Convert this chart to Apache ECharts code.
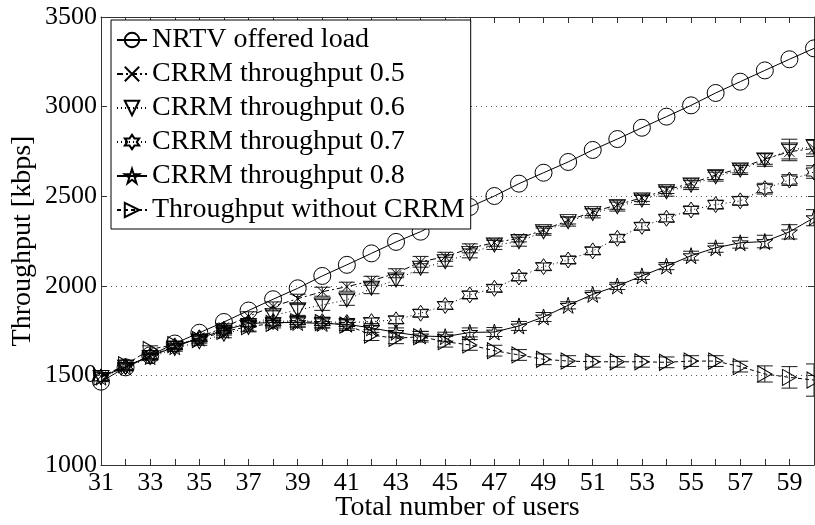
<!DOCTYPE html>
<html>
<head>
<meta charset="utf-8">
<script src="https://cdn.jsdelivr.net/npm/echarts@6/dist/echarts.min.js"></script>
<style>
  html, body { margin: 0; padding: 0; background: #fff; }
  #chart { width: 815px; height: 525px; }
</style>
</head>
<body>
<div id="chart"></div>
<script>
// Total number of users (x axis)
const users = [31,32,33,34,35,36,37,38,39,40,41,42,43,44,45,46,47,48,49,50,51,52,53,54,55,56,57,58,59,60];

// Throughput in kbps per scenario
const nrtvLoad = [1465,1545,1612,1678,1738,1798,1862,1925,1986,2055,2117,2181,2245,2302,2372,2440,2501,2570,2631,2691,2758,2819,2882,2944,3007,3076,3139,3202,3264,3325];
const crrm05   = [1495,1552,1608,1662,1712,1768,1830,1885,1928,1967,1995,2028,2070,2134,2162,2209,2241,2265,2311,2365,2412,2452,2491,2535,2572,2618,2655,2708,2748,2767];
const crrm06   = [1488,1545,1600,1650,1688,1730,1768,1835,1865,1893,1921,1986,2032,2098,2134,2181,2228,2246,2302,2358,2404,2442,2479,2525,2562,2609,2646,2702,2758,2776];
const crrm07   = [1492,1550,1610,1665,1710,1758,1795,1800,1805,1800,1795,1800,1810,1847,1890,1949,1986,2049,2107,2144,2195,2265,2332,2377,2423,2453,2474,2542,2590,2635];
const crrm08   = [1490,1548,1605,1660,1708,1752,1790,1795,1795,1790,1785,1765,1740,1720,1716,1740,1742,1776,1826,1891,1952,1999,2055,2110,2168,2212,2240,2247,2301,2380];
const noCrrm   = [1490,1560,1645,1672,1700,1745,1772,1790,1800,1795,1781,1725,1707,1716,1688,1670,1638,1614,1590,1580,1576,1576,1576,1573,1580,1580,1549,1508,1489,1474];

// Half-width of the confidence intervals (kbps)
const err05 = [20,20,15,15,15,20,25,25,25,25,25,25,25,30,25,25,20,20,20,20,20,25,20,20,25,25,25,30,40,45];
const err06 = [20,20,15,15,20,20,25,30,30,30,30,30,30,25,25,25,25,25,20,25,25,25,25,25,25,25,25,35,60,40];
const err07 = [20,20,15,15,15,20,20,20,20,20,20,20,20,20,20,20,20,20,20,20,20,20,20,20,20,25,25,30,30,35];
const err08 = [20,20,15,15,20,20,20,20,25,25,25,25,25,25,25,25,25,25,25,20,20,20,20,20,25,25,30,35,40,45];
const errNo = [25,25,20,20,20,20,25,25,30,30,30,30,30,30,30,30,30,30,30,30,30,30,30,30,30,30,30,45,60,90];

const names = ['NRTV offered load','CRRM throughput 0.5','CRRM throughput 0.6','CRRM throughput 0.7','CRRM throughput 0.8','Throughput without CRRM'];
const yTicks = { min: 1000, max: 3500, step: 500 };

const FONT = "'Liberation Serif', 'Times New Roman', serif";
const INK = '#000';

// Marker outlines
const SYM_CROSS = 'path://M0,0L10,10M10,0L0,10';
const SYM_DOWN  = 'path://M0,0L16,0L8,14Z';
const SYM_HEX   = 'path://M8,0L10.31,4L14.93,4L12.62,8L14.93,12L10.31,12L8,16L5.69,12L1.07,12L3.38,8L1.07,4L5.69,4Z';
const SYM_STAR  = 'path://M8,0L9.8,5.52L15.61,5.53L10.91,8.95L12.7,14.47L8,11.06L3.3,14.47L5.09,8.95L0.39,5.53L6.2,5.52Z';
const SYM_RIGHT = 'path://M0,0L14,8L0,16Z';

function pairs(vals) { return users.map((u, i) => [u, vals[i]]); }

function lineSeries(name, vals, symbol, size, dash) {
  return {
    type: 'line', name, data: pairs(vals),
    symbol, symbolSize: size, showAllSymbol: true,
    lineStyle: { color: INK, width: 1, type: dash },
    itemStyle: { color: 'rgba(255,255,255,0)', borderColor: INK, borderWidth: 1 },
    emphasis: { disabled: true },
    z: 3
  };
}

function errorSeries(name, vals, errs) {
  return {
    type: 'custom', name,
    data: users.map((u, i) => [u, vals[i] - errs[i], vals[i] + errs[i]]),
    renderItem: function (params, api) {
      const lo = api.coord([api.value(0), api.value(1)]);
      const hi = api.coord([api.value(0), api.value(2)]);
      const w = 8;
      const st = { stroke: '#1a1a1a', lineWidth: 1 };
      return {
        type: 'group',
        children: [
          { type: 'line', shape: { x1: lo[0], y1: lo[1], x2: hi[0], y2: hi[1] }, style: st },
          { type: 'line', shape: { x1: lo[0] - w, y1: lo[1], x2: lo[0] + w, y2: lo[1] }, style: st },
          { type: 'line', shape: { x1: hi[0] - w, y1: hi[1], x2: hi[0] + w, y2: hi[1] }, style: st }
        ]
      };
    },
    encode: { x: 0, y: [1, 2] },
    clip: true,
    silent: true,
    z: 2
  };
}

const chart = echarts.init(document.getElementById('chart'), null, { renderer: 'canvas' });

const tickStyle = { show: true, inside: true, length: 6, lineStyle: { color: '#333', width: 1 } };
const axisLine = { show: true, onZero: false, lineStyle: { color: '#333', width: 1 } };

chart.setOption({
  animation: false,
  backgroundColor: '#fff',
  grid: { left: 101, right: 1, top: 17, bottom: 60, containLabel: false, outerBoundsMode: 'none' },
  legend: {
    data: names,
    orient: 'vertical',
    left: 111, top: 20,
    padding: [6, 6, 5, 5],
    itemGap: 6,
    itemWidth: 30, itemHeight: 18,
    backgroundColor: '#fff',
    borderColor: '#000', borderWidth: 1,
    textStyle: { fontFamily: FONT, fontSize: 28, color: INK },
    selectedMode: false,
    z: 10
  },
  xAxis: [
    {
      type: 'value', min: 31, max: 60, interval: 1,
      axisLine, axisTick: tickStyle,
      splitLine: { show: false },
      axisLabel: {
        fontFamily: FONT, fontSize: 26, color: INK, margin: 5,
        formatter: v => (v % 2 === 1 ? String(v) : '')
      },
      name: 'Total number of users', nameLocation: 'middle', nameGap: 29,
      nameMoveOverlap: false,
      nameTextStyle: { fontFamily: FONT, fontSize: 28, color: INK }
    },
    {
      type: 'value', min: 31, max: 60, interval: 1, position: 'top',
      axisLine, axisTick: tickStyle, axisLabel: { show: false }, splitLine: { show: false }
    }
  ],
  yAxis: [
    {
      type: 'value', min: yTicks.min, max: yTicks.max, interval: yTicks.step,
      axisLine, axisTick: tickStyle,
      splitLine: { show: true, lineStyle: { color: '#555', width: 1, type: [1, 4] } },
      axisLabel: { fontFamily: FONT, fontSize: 26, color: INK, margin: 4, formatter: v => String(v) },
      name: 'Throughput [kbps]', nameLocation: 'middle', nameGap: 64, nameRotate: 90,
      nameMoveOverlap: false,
      nameTextStyle: { fontFamily: FONT, fontSize: 28, color: INK }
    },
    {
      type: 'value', min: yTicks.min, max: yTicks.max, interval: yTicks.step, position: 'right',
      axisLine, axisTick: tickStyle, axisLabel: { show: false }, splitLine: { show: false }
    }
  ],
  series: [
    errorSeries('err05', crrm05, err05),
    errorSeries('err06', crrm06, err06),
    errorSeries('err07', crrm07, err07),
    errorSeries('err08', crrm08, err08),
    errorSeries('errNo', noCrrm, errNo),
    lineSeries(names[0], nrtvLoad, 'circle', 17, 'solid'),
    lineSeries(names[1], crrm05, SYM_CROSS, 10, [6, 3, 2, 3]),
    lineSeries(names[2], crrm06, SYM_DOWN, [16, 14], [1, 3]),
    lineSeries(names[3], crrm07, SYM_HEX, 16, [1, 3]),
    lineSeries(names[4], crrm08, SYM_STAR, 16, 'solid'),
    lineSeries(names[5], noCrrm, SYM_RIGHT, [14, 16], [4, 3])
  ]
});
</script>
</body>
</html>
